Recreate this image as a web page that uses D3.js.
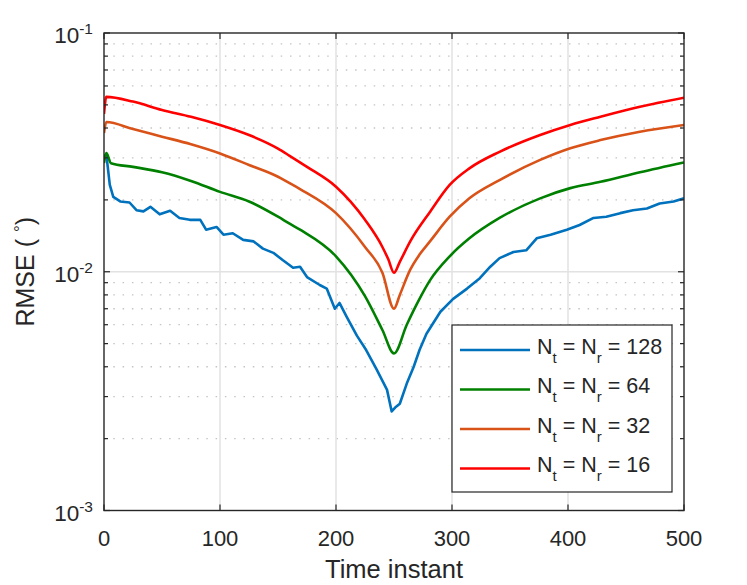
<!DOCTYPE html>
<html>
<head>
<meta charset="utf-8">
<script src="https://cdn.jsdelivr.net/npm/d3@7/dist/d3.min.js"></script>
<style>
  body { margin: 0; background: #fff; }
  text { font-family: "Liberation Sans", Arial, sans-serif; fill: #262626; white-space: pre; }
</style>
</head>
<body>
<div id="chart"></div>
<script>
// tick values
var xTicks = [0, 100, 200, 300, 400, 500]
var yDecades = [-3, -2, -1]

// RMSE per time instant: [time, rmse]
var rmse128 = [
  [0, 0.0305], [2, 0.0310], [5, 0.0231], [8, 0.0206], [14, 0.0197], [22, 0.0195],
  [28, 0.0181], [34, 0.0179], [40, 0.0187], [48, 0.0174], [57, 0.0180], [65, 0.0168],
  [74, 0.0165], [83, 0.0165], [88, 0.0150], [97, 0.0154], [103, 0.0143], [111, 0.0145],
  [120, 0.0136], [129, 0.0134], [137, 0.0125], [146, 0.0120], [154, 0.0112], [163, 0.0104],
  [169, 0.0105], [175, 0.0095], [186, 0.0088], [192, 0.0085], [199, 0.0070], [203, 0.0074],
  [209, 0.0065], [218, 0.0054], [226, 0.0047], [235, 0.0039], [244, 0.0032], [248, 0.0026],
  [251, 0.0027], [255, 0.0028], [261, 0.0034], [267, 0.0040], [272, 0.0047], [278, 0.0055],
  [290, 0.0068], [301, 0.0077], [313, 0.0085], [324, 0.0094], [333, 0.0105], [341, 0.0114],
  [353, 0.0121], [364, 0.0123], [373, 0.0138], [385, 0.0143], [399, 0.0150], [410, 0.0157],
  [422, 0.0168], [433, 0.0170], [445, 0.0176], [456, 0.0181], [468, 0.0184], [479, 0.0193],
  [491, 0.0197], [500, 0.0203]
]
var rmse64 = [
  [0, 0.0285], [2, 0.0314], [6, 0.0285], [25, 0.0275], [50, 0.0261], [75, 0.0240],
  [100, 0.0216], [125, 0.0197], [150, 0.0170], [160, 0.0159], [169, 0.0150], [200, 0.0116],
  [225, 0.0079], [240, 0.0057], [250, 0.00455], [261, 0.0060], [272, 0.0077], [281, 0.0092],
  [298, 0.0116], [315, 0.0138], [341, 0.0168], [376, 0.0203], [402, 0.0224], [428, 0.0238],
  [462, 0.0261], [500, 0.0287]
]
var rmse32 = [
  [0, 0.0381], [2, 0.0424], [25, 0.0396], [50, 0.0368], [75, 0.0342], [100, 0.0313],
  [125, 0.0280], [150, 0.0250], [160, 0.0235], [169, 0.0222], [200, 0.0176], [225, 0.0127],
  [240, 0.0099], [250, 0.0070], [255, 0.0080], [264, 0.0102], [272, 0.0118], [281, 0.0134],
  [298, 0.0170], [315, 0.0203], [341, 0.0242], [376, 0.0294], [402, 0.0329], [428, 0.0356],
  [462, 0.0386], [500, 0.0412]
]
var rmse16 = [
  [0, 0.0458], [2, 0.0540], [25, 0.0516], [50, 0.0476], [75, 0.0446], [100, 0.0412],
  [125, 0.0374], [150, 0.0328], [160, 0.0306], [175, 0.0275], [200, 0.0227], [225, 0.0165],
  [240, 0.0127], [245, 0.0113], [250, 0.0099], [255, 0.0110], [264, 0.0134], [281, 0.0178],
  [298, 0.0231], [315, 0.0271], [341, 0.0318], [376, 0.0374], [402, 0.0412], [428, 0.0446],
  [462, 0.0491], [500, 0.0536]
]

var antennas = ['128', '64', '32', '16']
var colors = ['#0072BD', '#008000', '#D95319', '#FF0000']
var series = [rmse128, rmse64, rmse32, rmse16]

var W = 747, H = 585
var box = {left: 104, right: 684, top: 33, bottom: 510.5}
var axisColor = '#262626'

var x = d3.scaleLinear().domain([0, 500]).range([box.left, box.right])
var y = d3.scaleLog().domain([1e-3, 1e-1]).range([box.bottom, box.top])

var svg = d3.select('#chart').append('svg')
  .attr('width', W).attr('height', H)

svg.append('defs').append('clipPath').attr('id', 'plot-clip')
  .append('rect')
  .attr('x', box.left).attr('y', box.top)
  .attr('width', box.right - box.left).attr('height', box.bottom - box.top)

// grid
var allY = y.ticks()
var isMajor = d => Math.abs(Math.log10(d) - Math.round(Math.log10(d))) < 1e-9
var minorY = allY.filter(d => !isMajor(d))
var majorY = allY.filter(isMajor)

svg.append('g').selectAll('line').data(minorY).join('line')
  .attr('x1', box.left).attr('x2', box.right)
  .attr('y1', d => y(d)).attr('y2', d => y(d))
  .attr('stroke', '#c4c4c4').attr('stroke-width', 1.3)
  .attr('stroke-dasharray', '1.5,7.8')

svg.append('g').selectAll('line').data(majorY.filter(d => d > 1e-3 && d < 1e-1)).join('line')
  .attr('x1', box.left).attr('x2', box.right)
  .attr('y1', d => y(d)).attr('y2', d => y(d))
  .attr('stroke', '#e2e2e2').attr('stroke-width', 1.5)

svg.append('g').selectAll('line').data(xTicks.slice(1, -1)).join('line')
  .attr('x1', d => x(d)).attr('x2', d => x(d))
  .attr('y1', box.top).attr('y2', box.bottom)
  .attr('stroke', '#e2e2e2').attr('stroke-width', 1.5)

// curves: the noisy 128 one stays jagged, the others are drawn smooth
var smooth = d3.line().x(d => x(d[0])).y(d => y(d[1])).curve(d3.curveMonotoneX)
var jagged = d3.line().x(d => x(d[0])).y(d => y(d[1]))
svg.append('g').attr('clip-path', 'url(#plot-clip)')
  .selectAll('path').data(series).join('path')
  .attr('d', (d, i) => i == 0 ? jagged(d) : smooth(d))
  .attr('fill', 'none')
  .attr('stroke', (d, i) => colors[i])
  .attr('stroke-width', 2.6)
  .attr('stroke-linejoin', 'round')

// frame and ticks
var frame = svg.append('g').attr('stroke', axisColor)
frame.append('rect')
  .attr('x', box.left).attr('y', box.top)
  .attr('width', box.right - box.left).attr('height', box.bottom - box.top)
  .attr('fill', 'none').attr('stroke-width', 1.4)

xTicks.forEach(t => {
  frame.append('line').attr('x1', x(t)).attr('x2', x(t)).attr('y1', box.bottom).attr('y2', box.bottom - 6).attr('stroke-width', 1.2)
  frame.append('line').attr('x1', x(t)).attr('x2', x(t)).attr('y1', box.top).attr('y2', box.top + 6).attr('stroke-width', 1.2)
})
allY.forEach(d => {
  var len = isMajor(d) ? 6 : 4
  frame.append('line').attr('x1', box.left).attr('x2', box.left + len).attr('y1', y(d)).attr('y2', y(d)).attr('stroke-width', 1.2)
  frame.append('line').attr('x1', box.right).attr('x2', box.right - len).attr('y1', y(d)).attr('y2', y(d)).attr('stroke-width', 1.2)
})

// tick labels
svg.append('g').selectAll('text').data(xTicks).join('text')
  .attr('x', d => x(d)).attr('y', box.bottom + 35.5)
  .attr('text-anchor', 'middle').attr('font-size', 22)
  .text(d => d)

var yLab = svg.append('g').selectAll('text').data(yDecades).join('text')
  .attr('x', 93).attr('y', d => y(Math.pow(10, d)) + 10)
  .attr('text-anchor', 'end').attr('font-size', 22.5)
yLab.append('tspan').text('10')
yLab.append('tspan').attr('font-size', 15.5).attr('dy', -9).text(d => d)

// axis labels
svg.append('text')
  .attr('x', (box.left + box.right) / 2).attr('y', 578)
  .attr('text-anchor', 'middle').attr('font-size', 25.5)
  .text('Time instant')

var yl = svg.append('text')
  .attr('transform', `translate(33.5,${(box.top + box.bottom) / 2}) rotate(-90)`)
  .attr('text-anchor', 'middle').attr('font-size', 25)
yl.append('tspan').text('RMSE ( ')
yl.append('tspan').attr('font-size', 17).attr('dy', -8).text('°')
yl.append('tspan').attr('dy', 8).text(')')

// legend
var leg = svg.append('g')
leg.append('rect')
  .attr('x', 452).attr('y', 325).attr('width', 220).attr('height', 167)
  .attr('fill', '#fff').attr('stroke', axisColor).attr('stroke-width', 1.2)

var rows = leg.selectAll('g.row').data(antennas).join('g')
  .attr('transform', (d, i) => `translate(0,${350 + i * 39.5})`)
rows.append('line')
  .attr('x1', 460).attr('x2', 530)
  .attr('stroke', (d, i) => colors[i]).attr('stroke-width', 2.6)
var lt = rows.append('text').attr('x', 537).attr('y', 3.5).attr('font-size', 21.5)
lt.append('tspan').text('N')
lt.append('tspan').attr('font-size', 15).attr('dy', 9).text('t')
lt.append('tspan').attr('dy', -9).text(' = N')
lt.append('tspan').attr('font-size', 15).attr('dy', 9).text('r')
lt.append('tspan').attr('dy', -9).text(d => ' = ' + d)
</script>
</body>
</html>
